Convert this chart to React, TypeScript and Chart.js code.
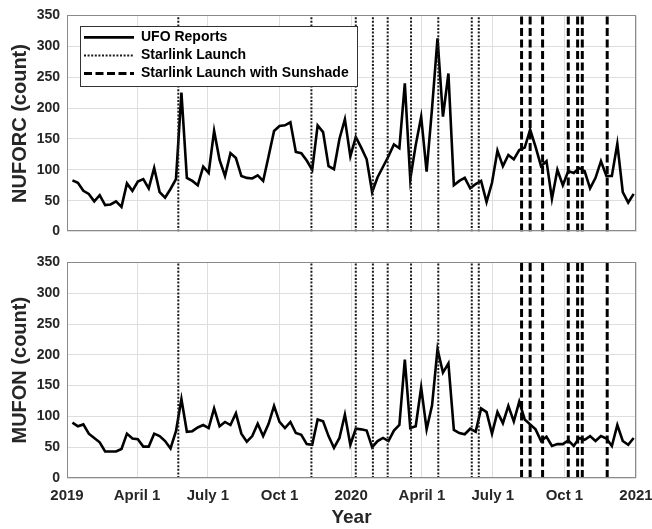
import React, { useEffect, useRef } from "react";
import { Chart, registerables } from "chart.js";

Chart.register(...registerables);

const FONT = "'Liberation Sans', Arial, Helvetica, sans-serif";

// ---- data ----
const firstWeek = "2019-01-08";

const nuforcCounts = [
  83, 79, 66, 61, 49, 59, 43, 44, 49, 40,
  78, 66, 81, 85, 70, 103, 64, 55, 69, 85,
  225, 87, 82, 75, 105, 95, 163, 116, 90, 127,
  119, 90, 87, 86, 91, 82, 122, 163, 171, 172,
  177, 129, 127, 115, 100, 172, 161, 106, 101, 150,
  182, 122, 153, 136, 117, 64, 88, 105, 122, 141,
  135, 240, 85, 140, 186, 97, 200, 313, 186, 256,
  75, 82, 87, 70, 77, 82, 48, 79, 131, 106,
  124, 117, 132, 136, 165, 137, 106, 114, 53, 100,
  75, 98, 95, 103, 98, 70, 87, 114, 90, 90,
  142, 64, 47, 61,
];

const mufonCounts = [
  90, 84, 87, 72, 65, 58, 43, 43, 43, 47,
  72, 64, 63, 51, 51, 72, 68, 60, 48, 76,
  128, 75, 76, 82, 86, 81, 113, 84, 91, 86,
  105, 72, 59, 68, 88, 68, 88, 117, 91, 81,
  91, 73, 70, 55, 54, 95, 92, 68, 49, 65,
  103, 54, 80, 79, 77, 50, 60, 65, 60, 77,
  86, 192, 81, 84, 147, 79, 118, 209, 171, 186,
  78, 73, 71, 80, 75, 113, 107, 72, 107, 89,
  117, 92, 124, 95, 87, 79, 60, 67, 52, 55,
  55, 61, 52, 65, 62, 68, 60, 68, 64, 52,
  86, 60, 54, 65,
];

const starlinkLaunches = [
  "2019-05-24", "2019-11-11", "2020-01-07", "2020-01-29", "2020-02-17",
  "2020-03-18", "2020-04-22", "2020-06-04", "2020-06-13",
];

const sunshadeLaunches = [
  "2020-08-07", "2020-08-18", "2020-09-03", "2020-10-06", "2020-10-18",
  "2020-10-24", "2020-11-25",
];

const xTickDates = [
  "2019-01-01", "2019-04-01", "2019-07-01", "2019-10-01", "2020-01-01",
  "2020-04-01", "2020-07-01", "2020-10-01", "2021-01-01",
];
const xTickLabels = ["2019", "April 1", "July 1", "Oct 1", "2020", "April 1", "July 1", "Oct 1", "2021"];

const yMin = 0;
const yMax = 350;
const yStep = 50;

// ---- helpers ----
const ORIGIN = Date.UTC(2019, 0, 1);
const dayOf = (s: string) => {
  const [y, m, d] = s.split("-").map(Number);
  return (Date.UTC(y, m - 1, d) - ORIGIN) / 86400000;
};

const weekly = (vals: number[]) => {
  const start = dayOf(firstWeek);
  return vals.map((v, i) => ({ x: start + 7 * i, y: v }));
};

const vlines = (dates: string[]) =>
  dates.flatMap((d) => [
    { x: dayOf(d), y: yMin },
    { x: dayOf(d), y: yMax },
    { x: dayOf(d), y: null },
  ]);

const framePlugin = {
  id: "frame",
  afterUpdate(chart: any) {
    const lg = chart.legend;
    if (lg && lg.options && lg.options.display) {
      const a = chart.chartArea;
      lg.left = a.left + 13;
      lg.top = a.top + 11;
      lg.right = lg.left + lg.width;
      lg.bottom = lg.top + lg.height;
    }
  },
  afterDraw(chart: any) {
    const { ctx, chartArea: a } = chart;
    ctx.save();
    ctx.strokeStyle = "#8a8a8a";
    ctx.lineWidth = 1;
    ctx.setLineDash([]);
    ctx.strokeRect(Math.round(a.left) + 0.5, Math.round(a.top) + 0.5, Math.round(a.right - a.left) - 1, Math.round(a.bottom - a.top) - 1);
    const lg = chart.legend;
    if (lg && lg.options && lg.options.display && lg.columnSizes && lg.columnSizes[0]) {
      const pad = lg.options.labels.padding;
      const col = lg.columnSizes[0];
      const x0 = Math.round(lg.left) + 0.5;
      const y0 = Math.round(lg.top) + 0.5;
      const w = Math.round(pad + col.width + 8);
      const h = Math.round(pad + col.height + 2);
      ctx.fillStyle = "#ffffff";
      ctx.fillRect(x0, y0, w, h);
      ctx.strokeStyle = "#333333";
      ctx.lineWidth = 1;
      ctx.strokeRect(x0, y0, w, h);
      ctx.restore();
      ctx.save();
      lg.draw();
    }
    ctx.restore();
  },
};

function makeConfig(values: number[], yTitle: string, isBottom: boolean): any {
  const tickFontX = { family: FONT, size: 15, weight: "bold" };
  const tickFontY = { family: FONT, size: 14, weight: "bold" };
  return {
    type: "line",
    data: {
      datasets: [
        {
          label: "UFO Reports",
          data: weekly(values),
          borderColor: "#000000",
          backgroundColor: "#000000",
          borderWidth: 2.6,
          pointRadius: 0,
          tension: 0,
          order: 2,
        },
        {
          label: "Starlink Launch",
          data: vlines(starlinkLaunches),
          borderColor: "#1a1a1a",
          backgroundColor: "#1a1a1a",
          borderWidth: 2,
          borderDash: [2, 1.6],
          pointRadius: 0,
          spanGaps: false,
          order: 1,
        },
        {
          label: "Starlink Launch with Sunshade",
          data: vlines(sunshadeLaunches),
          borderColor: "#000000",
          backgroundColor: "#000000",
          borderWidth: 3,
          borderDash: [8, 3.5],
          pointRadius: 0,
          spanGaps: false,
          order: 0,
        },
      ],
    },
    options: {
      animation: false,
      responsive: false,
      layout: { padding: { left: 0, right: 16, top: isBottom ? 10 : 15, bottom: 0 } },
      plugins: {
        tooltip: { enabled: false },
        legend: isBottom
          ? { display: false }
          : {
              display: true,
              position: "chartArea",
              align: "start",
              labels: {
                usePointStyle: true,
                pointStyle: "line",
                pointStyleWidth: 50,
                padding: 4,
                color: "#000000",
                font: { family: FONT, size: 14, weight: "bold" },
                sort: (a: any, b: any) => a.datasetIndex - b.datasetIndex,
                generateLabels: (chart: any) => {
                  const base = (Chart.defaults as any).plugins.legend.labels.generateLabels(chart);
                  return base.map((it: any) => {
                    const ds = chart.data.datasets[it.datasetIndex];
                    return {
                      ...it,
                      pointStyle: "line",
                      lineWidth: ds.borderWidth,
                      lineDash: ds.borderDash || [],
                      strokeStyle: ds.borderColor,
                      fillStyle: ds.borderColor,
                    };
                  });
                },
              },
            },
      },
      scales: {
        x: {
          type: "linear",
          min: 0,
          max: dayOf("2021-01-01"),
          afterBuildTicks: (s: any) => {
            s.ticks = xTickDates.map((d) => ({ value: dayOf(d) }));
          },
          afterFit: (s: any) => {
            s.height = isBottom ? 51 : 10;
            s.paddingLeft = 0;
            s.paddingRight = 0;
          },
          ticks: {
            display: isBottom,
            autoSkip: false,
            maxRotation: 0,
            minRotation: 0,
            padding: 9,
            color: "#262626",
            font: tickFontX,
            callback: (_v: any, i: number) => xTickLabels[i],
          },
          grid: { color: "#dedede", drawTicks: false, lineWidth: 1 },
          border: { display: false },
          title: isBottom
            ? {
                display: true,
                text: "Year",
                color: "#262626",
                font: { family: FONT, size: 19, weight: "bold" },
                padding: { top: 0, bottom: 0 },
              }
            : { display: false },
        },
        y: {
          min: yMin,
          max: yMax,
          afterFit: (s: any) => {
            s.width = 67;
          },
          ticks: {
            stepSize: yStep,
            padding: 7,
            color: "#262626",
            font: tickFontY,
          },
          grid: { color: "#dedede", drawTicks: false, lineWidth: 1 },
          border: { display: false },
          title: {
            display: true,
            text: yTitle,
            color: "#262626",
            font: { family: FONT, size: 20, weight: "bold" },
            padding: { top: 8, bottom: 0 },
          },
        },
      },
    },
    plugins: [framePlugin],
  };
}

export default function App() {
  const topRef = useRef<HTMLCanvasElement>(null);
  const botRef = useRef<HTMLCanvasElement>(null);

  useEffect(() => {
    const c1 = new Chart(topRef.current as HTMLCanvasElement, makeConfig(nuforcCounts, "NUFORC (count)", false));
    const c2 = new Chart(botRef.current as HTMLCanvasElement, makeConfig(mufonCounts, "MUFON (count)", true));
    return () => {
      c1.destroy();
      c2.destroy();
    };
  }, []);

  return (
    <div style={{ position: "fixed", left: 0, top: 0, width: 652, height: 529, background: "#ffffff" }}>
      <canvas
        ref={topRef}
        width={652}
        height={247}
        style={{ position: "absolute", left: 0, top: 0, width: 652, height: 247 }}
      />
      <canvas
        ref={botRef}
        width={652}
        height={282}
        style={{ position: "absolute", left: 0, top: 247, width: 652, height: 282 }}
      />
    </div>
  );
}
